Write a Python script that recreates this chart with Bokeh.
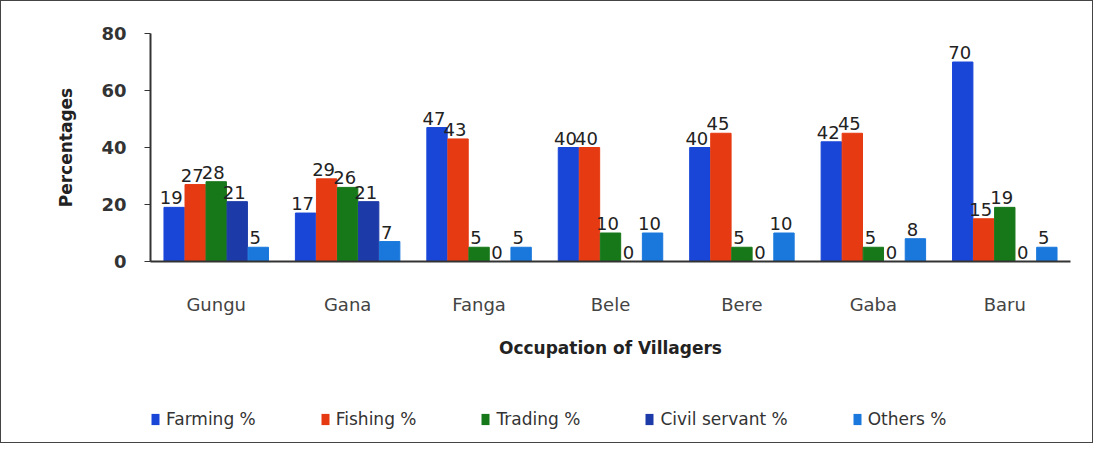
from bokeh.plotting import figure
from bokeh.models import FactorRange, ColumnDataSource, Legend, LegendItem, FixedTicker, Range1d
from bokeh.layouts import column
from bokeh.transform import dodge
from bokeh.core.properties import value
from bokeh.embed import file_html
from bokeh.resources import INLINE

villages = ["Gungu", "Gana", "Fanga", "Bele", "Bere", "Gaba", "Baru"]
farming = [19, 17, 47, 40, 40, 42, 70]
fishing = [27, 29, 43, 40, 45, 45, 15]
trading = [28, 26, 5, 10, 5, 5, 19]
civil = [21, 21, 0, 0, 0, 0, 0]
others = [5, 7, 5, 10, 10, 8, 5]
series_names = ["Farming %", "Fishing %", "Trading %", "Civil servant %", "Others %"]
series_vals = [farming, fishing, trading, civil, others]
colors = ["#1a46d8", "#e63a12", "#17781a", "#1d3ba8", "#1a78dc"]
keys = ["farming", "fishing", "trading", "civil", "others"]

data = {"village": villages}
for k, v in zip(keys, series_vals):
    data[k] = v
    data[k + "_lbl"] = [str(x) for x in v]
src = ColumnDataSource(data)

FONT = "DejaVu Sans"

p = figure(x_range=FactorRange(*villages), y_range=(0, 80),
           frame_width=920, frame_height=228,
           output_backend="svg", toolbar_location=None,
           min_border_left=149, min_border_right=22, min_border_top=32,
           min_border_bottom=100)
p.outline_line_color = None
p.xgrid.grid_line_color = None
p.ygrid.grid_line_color = None

offsets = [-0.32, -0.16, 0.0, 0.16, 0.32]
bw = 0.155
for k, col, off in zip(keys, colors, offsets):
    p.vbar(x=dodge("village", off, range=p.x_range), top=k, width=bw,
           source=src, fill_color=col, line_color=col)
    p.text(x=dodge("village", off, range=p.x_range), y=k, text=k + "_lbl",
           source=src, text_align="center", text_baseline="bottom",
           text_font=value(FONT), text_font_size="18px", text_color="#222222",
           x_offset=-3, y_offset=-3)

p.yaxis.ticker = FixedTicker(ticks=[0, 20, 40, 60, 80])
p.yaxis.axis_label = "Percentages"
p.yaxis.axis_label_text_font = FONT
p.yaxis.axis_label_text_font_style = "bold"
p.yaxis.axis_label_text_font_size = "17px"
p.yaxis.axis_label_text_color = "#222222"
p.yaxis.axis_label_standoff = 22
p.yaxis.major_label_text_font = FONT
p.yaxis.major_label_text_font_style = "bold"
p.yaxis.major_label_text_font_size = "18px"
p.yaxis.major_label_text_color = "#333333"
p.yaxis.major_label_standoff = 18
p.yaxis.major_tick_out = 6
p.yaxis.major_tick_in = 0
p.yaxis.minor_tick_line_color = None
p.yaxis.axis_line_width = 2
p.yaxis.axis_line_color = "#333333"
p.yaxis.major_tick_line_color = "#333333"

p.xaxis.axis_label = "Occupation of Villagers"
p.xaxis.axis_label_text_font = FONT
p.xaxis.axis_label_text_font_style = "bold"
p.xaxis.axis_label_text_font_size = "17px"
p.xaxis.axis_label_text_color = "#222222"
p.xaxis.axis_label_standoff = 20
p.xaxis.major_label_text_font = FONT
p.xaxis.major_label_text_font_size = "18px"
p.xaxis.major_label_text_color = "#444444"
p.xaxis.major_label_standoff = 26
p.xaxis.major_tick_line_color = None
p.xaxis.axis_line_width = 2
p.xaxis.axis_line_color = "#333333"

# legend strip below the chart (its frame is aligned with the chart's frame)
leg = figure(width=1091, height=81, x_range=Range1d(1000, 1001), y_range=Range1d(1000, 1001),
             output_backend="svg", toolbar_location=None,
             min_border_left=0, min_border_right=0, min_border_top=0, min_border_bottom=0)
leg.axis.visible = False
leg.grid.visible = False
leg.outline_line_color = None
items = []
for k, name, col in zip(keys, series_names, colors):
    # proxy renderers: zero-size, outside the strip's range; only their legend swatch shows
    r = leg.vbar(x=k, top=0, width=0, source=src, fill_color=col, line_color=None)
    items.append(LegendItem(label=name, renderers=[r]))
legend = Legend(items=items, orientation="horizontal", location=(0, 13),
                label_text_font=FONT, label_text_font_size="17px",
                label_text_color="#333333", glyph_width=10, glyph_height=14,
                spacing=64, label_standoff=6, border_line_color=None,
                background_fill_alpha=0, margin=0, padding=0)
leg.add_layout(legend, "center")

layout = column(p, leg, spacing=0)
layout.styles = {"border": "1px solid #444"}

open("out.html", "w").write(file_html(layout, INLINE))
